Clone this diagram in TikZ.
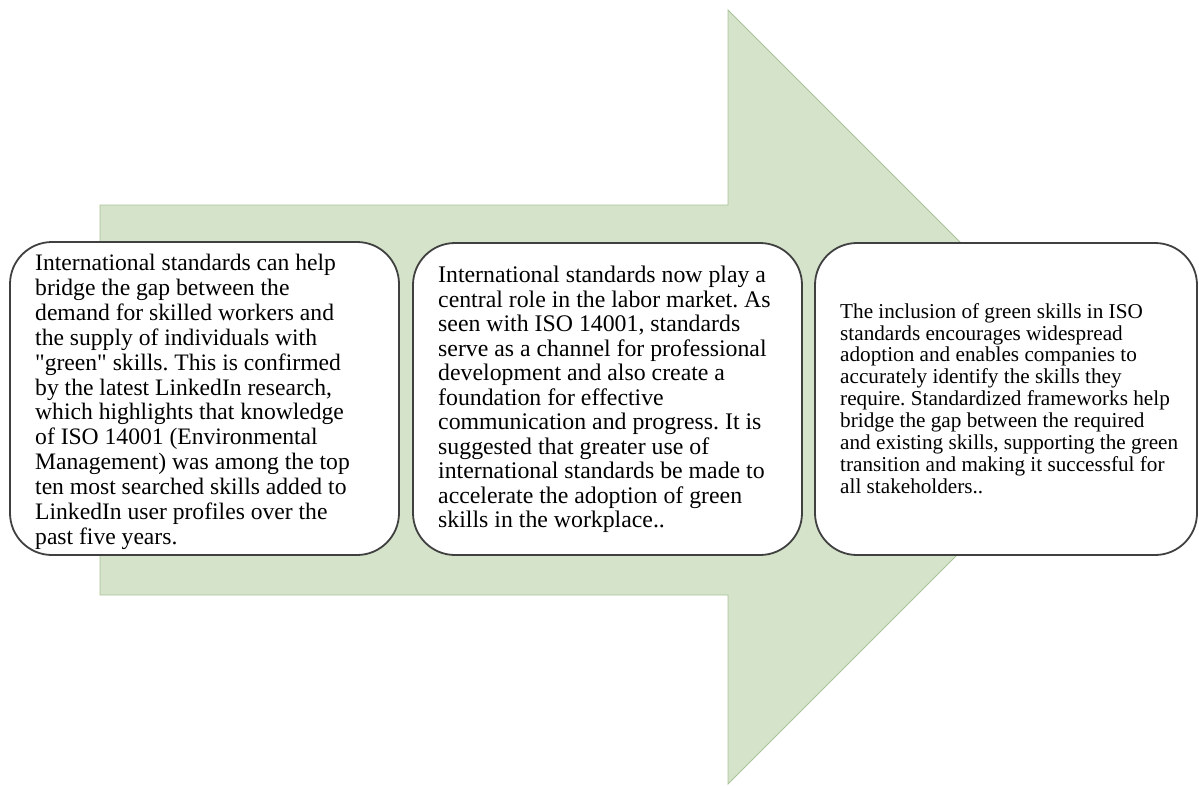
\documentclass[tikz,border=0pt]{standalone}
\usepackage{fontspec}
\setmainfont{Liberation Serif}
\frenchspacing
\definecolor{arrowfill}{HTML}{D4E3C9}
\definecolor{arrowline}{HTML}{A9C49A}
\definecolor{boxline}{HTML}{404040}
\begin{document}
\begin{tikzpicture}[x=1pt,y=-1pt,
  arrowshape/.style={fill=arrowfill,draw=arrowline,line width=0.8pt,line join=miter},
  roundbox/.style={draw=boxline,fill=white,line width=1.8pt,rounded corners=42pt},
  txtbig/.style={font=\fontsize{23.6}{24.9}\selectfont,align=left,inner sep=0pt,anchor=north west},
  txtmid/.style={font=\fontsize{23.8}{24.5}\selectfont,align=left,inner sep=0pt,anchor=north west},
  txtsmall/.style={font=\fontsize{21.2}{21.9}\selectfont,align=left,inner sep=0pt,anchor=north west}]
\path[use as bounding box] (0,0) rectangle (1199,785);
% big arrow
\draw[arrowshape] (100,205) -- (728,205) -- (728,10) -- (1115,397) -- (728,784) -- (728,595) -- (100,595) -- cycle;
% boxes
\draw[roundbox] (10,242) rectangle (399,555);
\draw[roundbox] (413,243) rectangle (802,555);
\draw[roundbox] (815,243) rectangle (1197,555);
% texts
\node[txtbig] (t1) at (35,254) {International standards can help\\bridge the gap between the\\demand for skilled workers and\\the supply of individuals with\\\textquotedbl green\textquotedbl{} skills. This is confirmed\\by the latest LinkedIn research,\\which highlights that knowledge\\of ISO 14001 (Environmental\\Management) was among the top\\ten most searched skills added to\\LinkedIn user profiles over the\\past five years.};
\node[txtmid] (t2) at (438,266) {International standards now play a\\central role in the labor market. As\\seen with ISO 14001, standards\\serve as a channel for professional\\development and also create a\\foundation for effective\\communication and progress. It is\\suggested that greater use of\\international standards be made to\\accelerate the adoption of green\\skills in the workplace..};
\node[txtsmall] (t3) at (840,303) {The inclusion of green skills in ISO\\standards encourages widespread\\adoption and enables companies to\\accurately identify the skills they\\require. Standardized frameworks help\\bridge the gap between the required\\and existing skills, supporting the green\\transition and making it successful for\\all stakeholders..};
\end{tikzpicture}
\end{document}
